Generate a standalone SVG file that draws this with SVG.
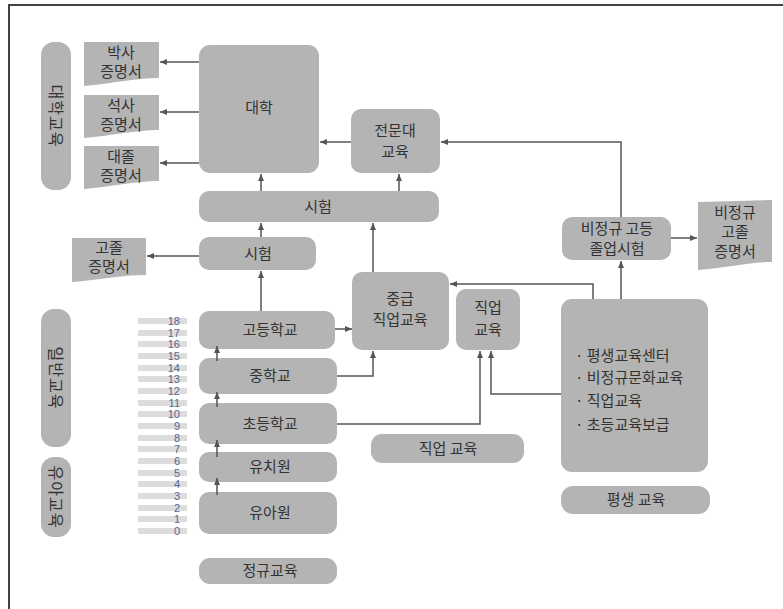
<svg xmlns="http://www.w3.org/2000/svg" width="783" height="609" viewBox="0 0 783 609">
<style>
.box{fill:#b4b4b4}
.doc{fill:#b4b4b4}
.t{font-family:"Noto Sans CJK KR","Noto Sans",sans-serif;font-size:15px;fill:#333;text-anchor:middle}
.tl{font-family:"Noto Sans CJK KR","Noto Sans",sans-serif;font-size:15px;fill:#333}
.tv{font-family:"Noto Sans CJK KR","Noto Sans",sans-serif;font-size:16px;fill:#333;text-anchor:middle;letter-spacing:1px}
.bar{fill:#dcdcdc}
.age{font-family:"Liberation Sans",sans-serif;font-size:11px;fill:#55688f;text-anchor:end}
.c{fill:none;stroke:#555;stroke-width:1.5;marker-end:url(#ah)}
</style>
<defs>
<marker id="ah" markerUnits="userSpaceOnUse" markerWidth="8" markerHeight="7" refX="7" refY="3" orient="auto">
<path d="M0,0 L7,3 L0,6 z" fill="#555"/>
</marker>
</defs>
<rect width="783" height="609" fill="#fff"/>
<path d="M9,612 V5 H786" fill="none" stroke="#444" stroke-width="2"/>

<g id="label-univ-edu"><rect class="box" x="41" y="42" width="30" height="148" rx="13"/><text class="tv" transform="translate(56,116) rotate(90)" y="6">대학교육</text></g>
<g id="label-general-edu"><rect class="box" x="41" y="309" width="30" height="138" rx="13"/><text class="tv" transform="translate(56,378) rotate(90)" y="6">일반교육</text></g>
<g id="label-infant-edu"><rect class="box" x="41" y="457" width="30" height="80" rx="13"/><text class="tv" transform="translate(56,497) rotate(90)" y="6">유아교육</text></g>

<g id="doc-phd"><path class="doc" d="M84,42 H159 V78 C135,78 110,84 84,86 Z"/><text class="t" x="121" y="58">박사</text><text class="t" x="121" y="77">증명서</text></g>
<g id="doc-master"><path class="doc" d="M84,95 H159 V130 C135,130 110,136 84,138 Z"/><text class="t" x="121" y="111">석사</text><text class="t" x="121" y="130">증명서</text></g>
<g id="doc-bachelor"><path class="doc" d="M84,146 H159 V181 C135,181 110,187 84,189 Z"/><text class="t" x="121" y="162">대졸</text><text class="t" x="121" y="181">증명서</text></g>
<g id="doc-highschool"><path class="doc" d="M72,238 H146 V275 C122,275 98,280 72,282 Z"/><text class="t" x="109" y="253">고졸</text><text class="t" x="109" y="272">증명서</text></g>
<g id="doc-nonformal"><path class="doc" d="M698,202 L772,200 V262 C750,262 725,268 698,270 Z"/><text class="t" x="735" y="218">비정규</text><text class="t" x="735" y="237">고졸</text><text class="t" x="735" y="257">증명서</text></g>

<g id="university"><rect class="box" x="199" y="45" width="120" height="128" rx="11"/><text class="t" x="259" y="113">대학</text></g>
<g id="college"><rect class="box" x="351" y="109" width="89" height="64" rx="10"/><text class="t" x="395" y="136">전문대</text><text class="t" x="395" y="157">교육</text></g>
<g id="exam-big"><rect class="box" x="199" y="191" width="240" height="31" rx="10"/><text class="t" x="318" y="212">시험</text></g>
<g id="exam-small"><rect class="box" x="199" y="237" width="117" height="33" rx="10"/><text class="t" x="258" y="259">시험</text></g>
<g id="high-school"><rect class="box" x="199" y="311" width="136" height="38" rx="10"/><text class="t" x="270" y="335">고등학교</text></g>
<g id="middle-school"><rect class="box" x="199" y="358" width="138" height="36" rx="10"/><text class="t" x="270" y="381">중학교</text></g>
<g id="elementary"><rect class="box" x="199" y="403" width="138" height="41" rx="10"/><text class="t" x="270" y="429">초등학교</text></g>
<g id="kindergarten"><rect class="box" x="199" y="452" width="138" height="30" rx="10"/><text class="t" x="270" y="472">유치원</text></g>
<g id="nursery"><rect class="box" x="199" y="492" width="138" height="42" rx="10"/><text class="t" x="270" y="518">유아원</text></g>
<g id="label-formal"><rect class="box" x="199" y="558" width="138" height="26" rx="11"/><text class="t" x="270" y="576">정규교육</text></g>

<g id="mid-vocational"><rect class="box" x="352" y="272" width="97" height="78" rx="10"/><text class="t" x="400" y="304">중급</text><text class="t" x="400" y="325">직업교육</text></g>
<g id="vocational"><rect class="box" x="456" y="289" width="64" height="61" rx="10"/><text class="t" x="488" y="313">직업</text><text class="t" x="488" y="335">교육</text></g>
<g id="label-vocational"><rect class="box" x="371" y="434" width="153" height="29" rx="11"/><text class="t" x="448" y="454">직업 교육</text></g>

<g id="nonformal-exam"><rect class="box" x="562" y="217" width="109" height="43" rx="10"/><text class="t" x="617" y="234">비정규 고등</text><text class="t" x="617" y="254">졸업시험</text></g>
<g id="lifelong"><rect class="box" x="561" y="299" width="147" height="173" rx="11"/>
<text class="tl" x="575" y="361">· 평생교육센터</text>
<text class="tl" x="575" y="383">· 비정규문화교육</text>
<text class="tl" x="575" y="406">· 직업교육</text>
<text class="tl" x="575" y="430">· 초등교육보급</text></g>
<g id="label-lifelong"><rect class="box" x="561" y="486" width="149" height="28" rx="12"/><text class="t" x="636" y="505">평생 교육</text></g>

<g id="age-scale">
<rect class="bar" x="138" y="318" width="49" height="6"/><text class="age" x="180" y="325">18</text>
<rect class="bar" x="138" y="330" width="49" height="6"/><text class="age" x="180" y="337">17</text>
<rect class="bar" x="138" y="341" width="49" height="6"/><text class="age" x="180" y="348">16</text>
<rect class="bar" x="138" y="353" width="49" height="6"/><text class="age" x="180" y="360">15</text>
<rect class="bar" x="138" y="365" width="49" height="6"/><text class="age" x="180" y="372">14</text>
<rect class="bar" x="138" y="376" width="49" height="6"/><text class="age" x="180" y="383">13</text>
<rect class="bar" x="138" y="388" width="49" height="6"/><text class="age" x="180" y="395">12</text>
<rect class="bar" x="138" y="400" width="49" height="6"/><text class="age" x="180" y="407">11</text>
<rect class="bar" x="138" y="411" width="49" height="6"/><text class="age" x="180" y="418">10</text>
<rect class="bar" x="138" y="423" width="49" height="6"/><text class="age" x="180" y="430">9</text>
<rect class="bar" x="138" y="435" width="49" height="6"/><text class="age" x="180" y="442">8</text>
<rect class="bar" x="138" y="446" width="49" height="6"/><text class="age" x="180" y="453">7</text>
<rect class="bar" x="138" y="458" width="49" height="6"/><text class="age" x="180" y="465">6</text>
<rect class="bar" x="138" y="470" width="49" height="6"/><text class="age" x="180" y="477">5</text>
<rect class="bar" x="138" y="481" width="49" height="6"/><text class="age" x="180" y="488">4</text>
<rect class="bar" x="138" y="493" width="49" height="6"/><text class="age" x="180" y="500">3</text>
<rect class="bar" x="138" y="505" width="49" height="6"/><text class="age" x="180" y="512">2</text>
<rect class="bar" x="138" y="516" width="49" height="6"/><text class="age" x="180" y="523">1</text>
<rect class="bar" x="138" y="528" width="49" height="6"/><text class="age" x="180" y="535">0</text>
</g>

<g id="connectors">
<path class="c" d="M199,62 H160"/>
<path class="c" d="M199,112 H160"/>
<path class="c" d="M199,163 H160"/>
<path class="c" d="M351,142 H320"/>
<path class="c" d="M261,191 V174"/>
<path class="c" d="M399,191 V174"/>
<path class="c" d="M261,237 V223"/>
<path class="c" d="M199,256 H147"/>
<path class="c" d="M261,311 V271"/>
<path class="c" d="M373,272 V223"/>
<path class="c" d="M335,329 H352"/>
<path class="c" d="M337,376 H373 V351"/>
<path class="c" d="M217,361 V346"/>
<path class="c" d="M217,407 V392"/>
<path class="c" d="M217,457 V440"/>
<path class="c" d="M217,495 V478"/>
<path class="c" d="M337,424 H480 V351"/>
<path class="c" d="M561,394 H491 V351"/>
<path class="c" d="M593,299 V284 H450"/>
<path class="c" d="M621,299 V261"/>
<path class="c" d="M621,217 V142 H441"/>
<path class="c" d="M671,238 H697"/>
</g>
</svg>
